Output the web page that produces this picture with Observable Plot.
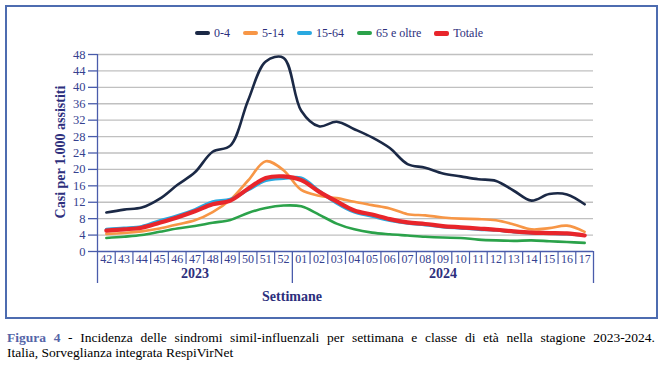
<!DOCTYPE html>
<html><head><meta charset="utf-8">
<script src="https://cdn.jsdelivr.net/npm/d3@7"></script>
<script src="https://cdn.jsdelivr.net/npm/@observablehq/plot@0.6"></script>
<style>
body{margin:0;background:#fff;font-family:"Liberation Serif","Times New Roman",serif;width:663px;height:379px;position:relative;overflow:hidden}
#frame{position:absolute;left:5px;top:5px;width:653px;height:314px;border:2px solid #4d6cb0;box-sizing:border-box}
#legend{position:absolute;top:25px;left:0;width:678px;display:flex;justify-content:center;align-items:center;gap:13px;font-size:12px;color:#2d2f7d;line-height:16px}
#legend .it{display:flex;align-items:center;gap:4px}
#legend .sw{display:inline-block;width:15px;height:4px;border-radius:2px}
#chart{position:absolute;left:0;top:44px}
.lbl{position:absolute;font-weight:bold;font-size:14px;color:#2d2f7d;white-space:nowrap;transform:translate(-50%,-50%)}
#caption{position:absolute;left:7px;top:330px;width:648px;font-size:13.5px;line-height:15px;color:#000}
#caption .l1{text-align:justify;text-align-last:justify}
#caption b{color:#5565a8}
</style>
</head><body>
<div id="frame"></div>
<div id="legend"></div>
<div id="chart"></div>
<div class="lbl" id="ytitle" style="left:61px;top:152px;transform:translate(-50%,-50%) rotate(-90deg)">Casi per 1.000 assistiti</div>
<div class="lbl" style="left:292px;top:297px">Settimane</div>
<div id="caption"><div class="l1"><b>Figura 4</b> - Incidenza delle sindromi simil-influenzali per settimana e classe di età nella stagione 2023-2024.</div><div>Italia, Sorveglianza integrata RespiVirNet</div></div>
<script>
const weeks = ["42","43","44","45","46","47","48","49","50","51","52","01","02","03","04","05","06","07","08","09","10","11","12","13","14","15","16","17"];
const years = ["2023","2024"];
const yTicks = [0,4,8,12,16,20,24,28,32,36,40,44,48];
const seriesNames = ["0-4","5-14","15-64","65 e oltre","Totale"];
const seriesColors = ["#1b2946","#f79646","#2aa9e0","#2ba24a","#e8252b"];
const seriesWidths = [2.6,2.6,3.2,2.6,4.2];
const v04 = [9.5,10.2,10.7,12.8,16.2,19.3,24.3,25.8,36.8,46.3,47.2,34.3,30.5,31.6,29.8,27.8,25.2,21.3,20.4,19.0,18.3,17.6,17.2,14.8,12.4,14.0,13.9,11.5];
const v514 = [4.3,4.5,4.9,5.6,6.6,7.6,9.6,12.6,17.3,22.0,19.8,15.0,13.6,13.0,12.1,11.3,10.5,9.1,8.8,8.3,8.0,7.9,7.6,6.6,5.4,5.7,6.3,4.8];
const v1564 = [5.4,5.7,6.1,7.5,8.7,10.2,12.1,12.7,15.0,17.3,17.8,17.9,14.8,11.8,9.6,8.6,7.6,6.9,6.5,6.0,5.7,5.4,5.2,4.8,4.5,4.4,4.3,3.9];
const v65 = [3.3,3.6,4.0,4.8,5.6,6.2,7.0,7.7,9.4,10.6,11.2,11.0,9.0,6.8,5.4,4.6,4.2,3.9,3.6,3.4,3.3,2.9,2.7,2.6,2.7,2.5,2.3,2.1];
const vTot = [5.1,5.4,5.8,7.0,8.3,9.8,11.5,12.4,15.3,17.9,18.3,17.4,14.6,12.2,10.0,9.0,7.9,7.1,6.7,6.2,5.9,5.6,5.3,4.9,4.6,4.5,4.4,3.9];
const seriesValues = [v04,v514,v1564,v65,vTot];

const axisColor = "#4a5cab";
const tickText = "#35418f";
const titleColor = "#2d2f7d";

// legend
const lg = document.getElementById("legend");
seriesNames.forEach((n,k)=>{
  const it = document.createElement("div"); it.className="it";
  const sw = document.createElement("span"); sw.className="sw"; sw.style.background=seriesColors[k];
  if (k===4) sw.style.height="5px";
  const t = document.createElement("span"); t.textContent = n;
  it.appendChild(sw); it.appendChild(t); lg.appendChild(it);
});

const idx = weeks.map((w,i)=>i);
const boundary = weeks.indexOf("01");
const bounds = d3.range(weeks.length+1).map(i=>i-0.5);
const yearBounds = [-0.5, boundary-0.5, weeks.length-0.5];
const smallBounds = bounds.filter(b=>!yearBounds.includes(b));
const yearCenters = [(boundary-1)/2, (boundary+weeks.length-1)/2];

const lines = seriesValues.map((vals,k)=>Plot.line(vals.map((v,i)=>({i, v})), {
  x:"i", y:"v", stroke: seriesColors[k], strokeWidth: seriesWidths[k], curve:"catmull-rom", strokeLinecap:"round", strokeLinejoin:"round"
}));

const chart = Plot.plot({
  width: 663, height: 266,
  marginLeft: 97, marginRight: 70, marginTop: 10, marginBottom: 59,
  style: {fontFamily:"'Liberation Serif','Times New Roman',serif", fontSize:"12px", background:"transparent", overflow:"visible"},
  x: {domain: [-0.5, weeks.length-0.5]},
  y: {domain: [0, 48]},
  marks: [
    Plot.ruleY(yTicks.filter(d=>d>0), {stroke:"#c0c0c0", strokeWidth:1.3}),
    ...lines,
    Plot.ruleX([-0.5], {y1: 0, y2: 48, stroke: axisColor, strokeWidth: 1.3}),
    Plot.ruleY([0], {stroke: axisColor, strokeWidth: 1.3}),
    Plot.axisY({ticks: yTicks, tickSize: 9, tickPadding: 3, label: null, color: axisColor, fill: tickText, fontSize: 12.5, strokeWidth: 1.3}),
    Plot.axisX({ticks: idx, tickSize: 0, tickPadding: 3, tickFormat: i=>weeks[i], label: null, fill: tickText, fontSize: 12}),
    Plot.axisX({ticks: smallBounds, tickSize: 13, text: null, label: null, stroke: axisColor, strokeWidth: 1.2}),
    Plot.axisX({ticks: yearBounds, tickSize: 32, text: null, label: null, stroke: axisColor, strokeWidth: 1.3}),
    Plot.text(years, {x: (d,k)=>yearCenters[k], y: ()=>0, dy: 22, text: d=>d, fontWeight:"bold", fontSize: 14, fill: titleColor})
  ]
});
document.getElementById("chart").appendChild(chart);
</script>
</body></html>
